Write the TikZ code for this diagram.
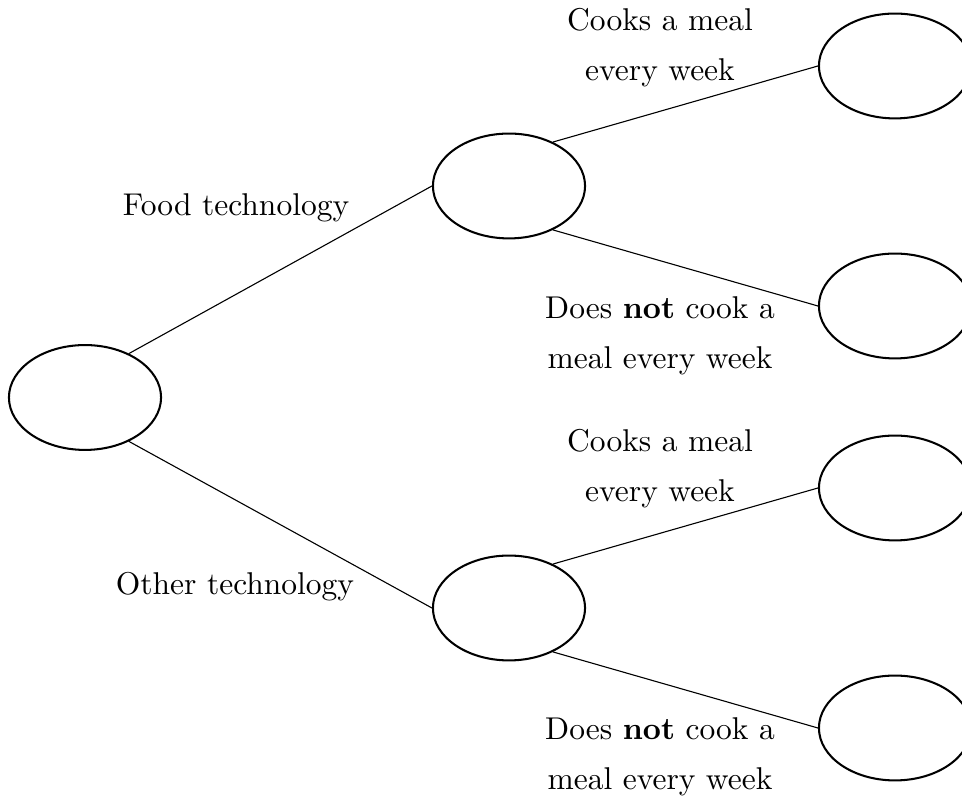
\documentclass[tikz,border=0pt]{standalone}
\usetikzlibrary{shapes.geometric}
\begin{document}
\begin{tikzpicture}[x=0.3175pt,y=-0.3175pt,
  state/.style={draw,ellipse,line width=0.65pt,minimum width=48.3pt,minimum height=33.3pt,inner sep=0pt},
  branch/.style={line width=0.35pt},
  lbl/.style={anchor=base,inner sep=0pt,font=\fontsize{10}{12}\selectfont}]
\useasboundingbox (0,0) rectangle (962,800);
\node[state] (root) at (85,397.5) {};
\node[state] (m1) at (509,186) {};
\node[state] (m2) at (509,608) {};
\node[state] (r1) at (895,66) {};
\node[state] (r2) at (895,306) {};
\node[state] (r3) at (895,488) {};
\node[state] (r4) at (895,728) {};
\draw[branch] (root.45) -- (m1.west);
\draw[branch] (root.-45) -- (m2.west);
\draw[branch] (m1.45) -- (r1.west);
\draw[branch] (m1.-45) -- (r2.west);
\draw[branch] (m2.45) -- (r3.west);
\draw[branch] (m2.-45) -- (r4.west);
\node[lbl] (ft) at (236,216) {Food technology};
\node[lbl] (ot) at (235,595) {Other technology};
\node[lbl] (c1a) at (660,31) {Cooks a meal};
\node[lbl] (c1b) at (660,81) {every week};
\node[lbl] (n1a) at (660,319) {Does \textbf{not} cook a};
\node[lbl] (n1b) at (660,369) {meal every week};
\node[lbl] (c2a) at (660,452) {Cooks a meal};
\node[lbl] (c2b) at (660,502) {every week};
\node[lbl] (n2a) at (660,740) {Does \textbf{not} cook a};
\node[lbl] (n2b) at (660,790) {meal every week};
\end{tikzpicture}
\end{document}
